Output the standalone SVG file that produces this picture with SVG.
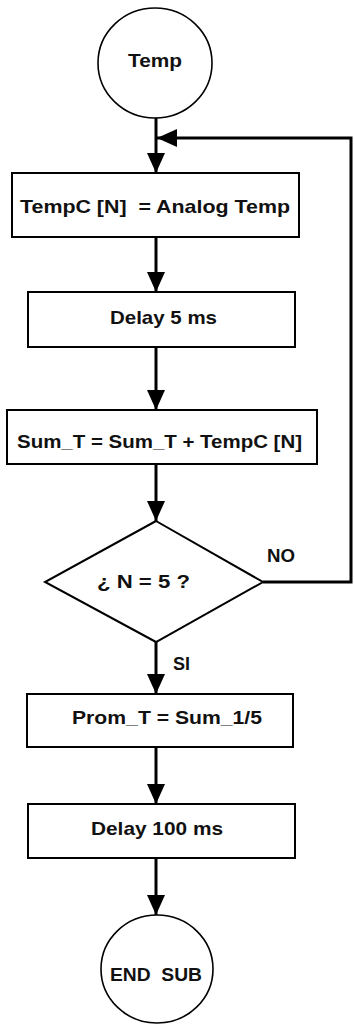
<svg xmlns="http://www.w3.org/2000/svg" width="354" height="1025" viewBox="0 0 354 1025">
<style>
.shape{fill:#fff;stroke:#000;stroke-width:2}
.circ{fill:#fff;stroke:#000;stroke-width:1.6}
.t{font-family:"Liberation Sans",Arial,sans-serif;font-weight:bold;font-size:19px;fill:#111;text-anchor:middle;white-space:pre}
.c{fill:none;stroke:#000;stroke-width:3}
</style>
<defs>
<marker id="ah" markerUnits="userSpaceOnUse" markerWidth="20" markerHeight="18" refX="20" refY="9" orient="auto">
<path d="M0,0 L20,9 L0,18 Z" fill="#000"/>
</marker>
</defs>
<rect width="354" height="1025" fill="#fff"/>
<g id="connectors">
<line class="c" x1="156" y1="118" x2="156" y2="173" marker-end="url(#ah)"/>
<line class="c" x1="156" y1="237" x2="156" y2="292" marker-end="url(#ah)"/>
<line class="c" x1="156" y1="347" x2="156" y2="410" marker-end="url(#ah)"/>
<line class="c" x1="156" y1="464" x2="156" y2="521" marker-end="url(#ah)"/>
<line class="c" x1="156" y1="642" x2="156" y2="694" marker-end="url(#ah)"/>
<line class="c" x1="156" y1="747" x2="156" y2="804" marker-end="url(#ah)"/>
<line class="c" x1="156" y1="858" x2="156" y2="915" marker-end="url(#ah)"/>
<polyline class="c" points="263,582 351,582 351,138 157,138" marker-end="url(#ah)"/>
<text class="t" x="281" y="562" textLength="28" lengthAdjust="spacingAndGlyphs">NO</text>
<text class="t" x="181.5" y="670" textLength="17" lengthAdjust="spacingAndGlyphs">SI</text>
</g>
<g id="start">
<ellipse class="circ" cx="155" cy="63" rx="57" ry="55"/>
<text class="t" x="155" y="67" textLength="54" lengthAdjust="spacingAndGlyphs">Temp</text>
</g>
<g id="read">
<rect class="shape" x="12" y="173" width="287" height="64"/>
<text class="t" x="155" y="213" textLength="270" lengthAdjust="spacingAndGlyphs" xml:space="preserve">TempC [N]  = Analog Temp</text>
</g>
<g id="delay5">
<rect class="shape" x="28" y="292" width="267" height="55"/>
<text class="t" x="163.5" y="324" textLength="107" lengthAdjust="spacingAndGlyphs">Delay 5 ms</text>
</g>
<g id="sum">
<rect class="shape" x="7" y="410" width="310" height="54"/>
<text class="t" x="159.5" y="448" textLength="285" lengthAdjust="spacingAndGlyphs">Sum_T = Sum_T + TempC [N]</text>
</g>
<g id="decision">
<polygon class="shape" points="156,521 263,582 156,642 45,582"/>
<text class="t" x="143.5" y="588" textLength="93" lengthAdjust="spacingAndGlyphs">¿ N = 5 ?</text>
</g>
<g id="prom">
<rect class="shape" x="27" y="694" width="266" height="53"/>
<text class="t" x="167" y="724" textLength="190" lengthAdjust="spacingAndGlyphs">Prom_T = Sum_1/5</text>
</g>
<g id="delay100">
<rect class="shape" x="28" y="804" width="267" height="54"/>
<text class="t" x="157" y="835" textLength="132" lengthAdjust="spacingAndGlyphs">Delay 100 ms</text>
</g>
<g id="end">
<ellipse class="circ" cx="157" cy="969" rx="56" ry="54"/>
<text class="t" x="156" y="981" textLength="92" lengthAdjust="spacingAndGlyphs" xml:space="preserve">END  SUB</text>
</g>
</svg>
